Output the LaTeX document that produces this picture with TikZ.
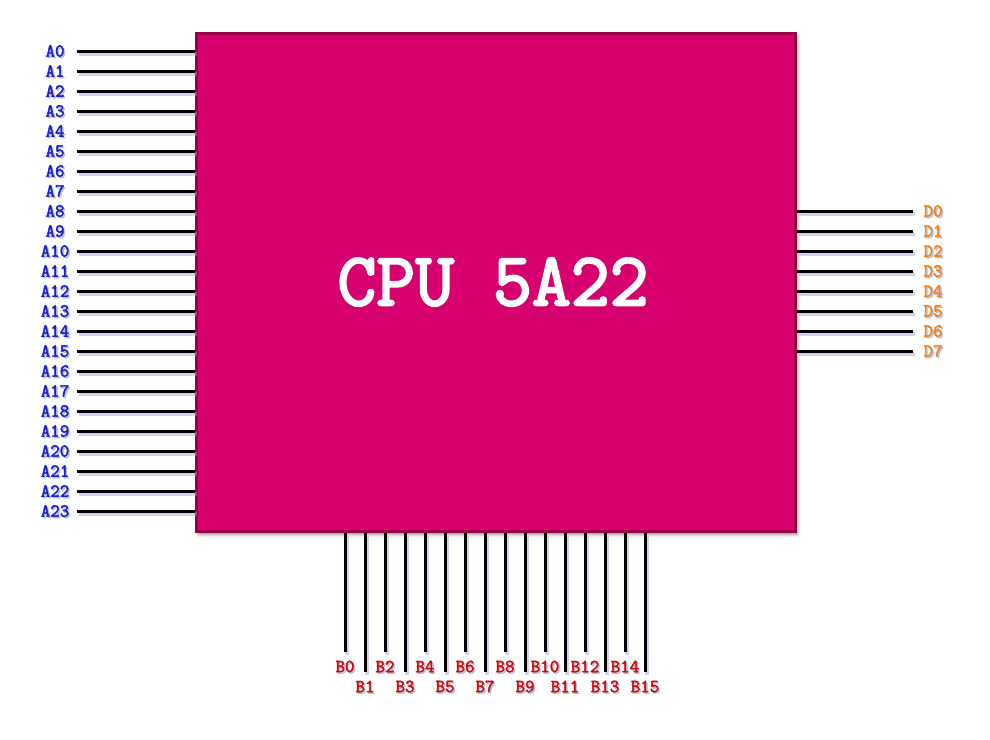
\documentclass[tikz,border=0pt]{standalone}
\usepackage{fontspec}
\newfontfamily\courb[FakeBold=2.2]{Latin Modern Mono}
\newfontfamily\court[FakeBold=3]{Latin Modern Mono}
\usetikzlibrary{shadows.blur}
\definecolor{cpufill}{RGB}{214,0,111}
\definecolor{cpuedge}{RGB}{155,0,68}
\definecolor{acol}{RGB}{25,30,200}
\definecolor{dcol}{RGB}{240,130,30}
\definecolor{bcol}{RGB}{205,10,10}
\definecolor{shadecol}{RGB}{150,160,200}
\begin{document}
\begin{tikzpicture}[x=1pt,y=-1pt,
  pinline/.style={line width=3pt,black},
  pinshadow/.style={line width=4pt,shadecol,opacity=0.45},
  lbl/.style={font=\courb\fontsize{18.5}{18.5}\selectfont,inner sep=0pt},
  lblshadow/.style={lbl,text=shadecol,opacity=0.55}]
\useasboundingbox (0,0) rectangle (990,739);
\node[draw=cpuedge,line width=3pt,fill=cpufill,minimum width=599pt,minimum height=498pt,
  blur shadow={shadow xshift=2pt,shadow yshift=-3pt,shadow blur radius=3pt,shadow opacity=45}] (cpu) at (496,282.5) {};
\node[text=white,font=\court\fontsize{75.5}{75.5}\selectfont,inner sep=0pt] (title) at (493,282) {CPU 5A22};
% left pins
\foreach \i in {0,...,23}{
  \pgfmathsetmacro\yy{51+20*\i}
  \coordinate (a\i) at (77,\yy);
  \coordinate (ab\i) at (cpu.west |- a\i);
  \draw[pinshadow] ([shift={(1.5,2.5)}]a\i) -- ([shift={(1.5,2.5)}]ab\i);
  \draw[pinline] (a\i) -- (ab\i);
  \node[lblshadow] at (56.5,\yy+1.5) {A\i};
  \node[lbl,text=acol] (la\i) at (55,\yy) {A\i};
}
% right pins
\foreach \i in {0,...,7}{
  \pgfmathsetmacro\yy{211+20*\i}
  \coordinate (d\i) at (913,\yy);
  \coordinate (db\i) at (cpu.east |- d\i);
  \draw[pinshadow] ([shift={(1.5,2.5)}]db\i) -- ([shift={(1.5,2.5)}]d\i);
  \draw[pinline] (db\i) -- (d\i);
  \node[lblshadow] at (934.5,\yy+1.5) {D\i};
  \node[lbl,text=dcol] (ld\i) at (933,\yy) {D\i};
}
% bottom pins
\foreach \i in {0,...,15}{
  \pgfmathsetmacro\xx{345+20*\i}
  \pgfmathsetmacro\ye{isodd(\i) ? 672 : 652}
  \pgfmathsetmacro\yl{isodd(\i) ? 686.5 : 666.5}
  \coordinate (b\i) at (\xx,\ye);
  \coordinate (bb\i) at (cpu.south -| b\i);
  \draw[pinshadow] ([shift={(1.5,2.5)}]bb\i) -- ([shift={(1.5,2.5)}]b\i);
  \draw[pinline] (bb\i) -- (b\i);
  \node[lblshadow] at (\xx+1.5,\yl+1.5) {B\i};
  \node[lbl,text=bcol] (lb\i) at (\xx,\yl) {B\i};
}
\end{tikzpicture}
\end{document}
